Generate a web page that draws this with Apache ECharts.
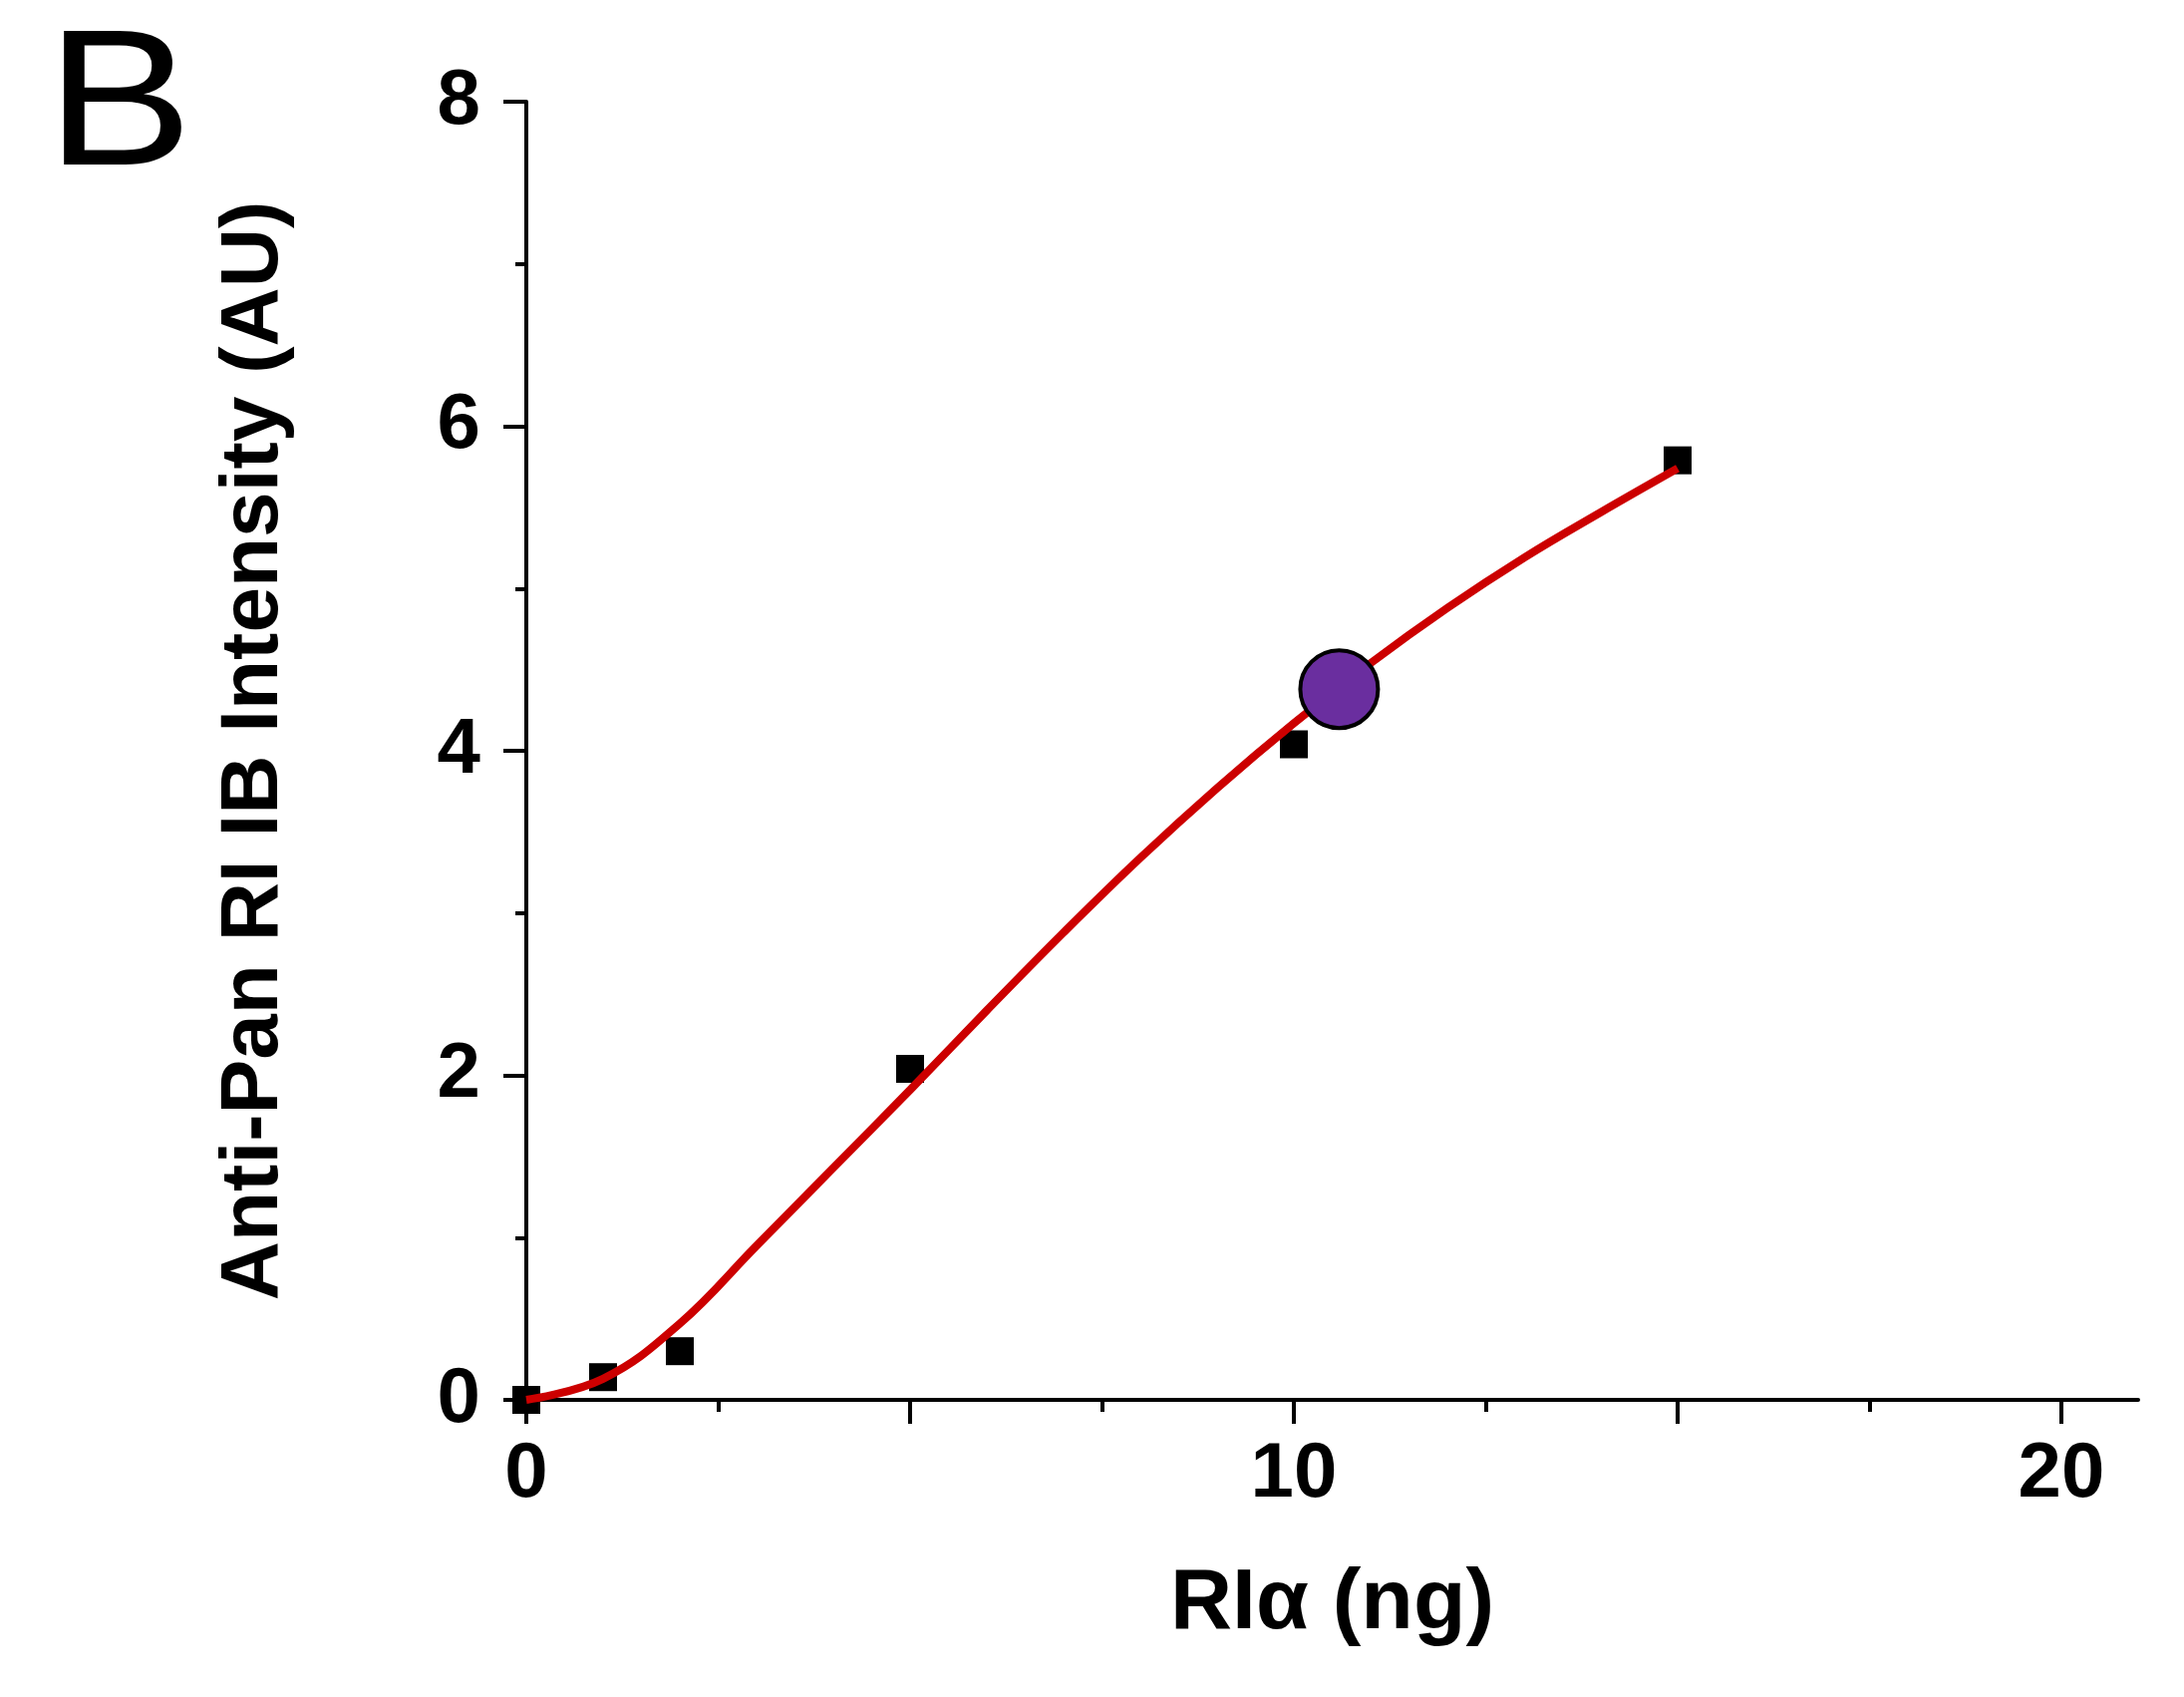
<!DOCTYPE html>
<html>
<head>
<meta charset="utf-8">
<script src="https://cdn.jsdelivr.net/npm/echarts@6/dist/echarts.min.js"></script>
<style>
  html, body { margin: 0; padding: 0; background: #ffffff; }
  #chart { width: 2191px; height: 1702px; }
</style>
</head>
<body>
<div id="chart"></div>
<script>
// Measured points (squares)
const pointX = [0, 1, 2, 5, 10, 15];
const pointY = [0.0, 0.14, 0.30, 2.04, 4.04, 5.79];

// Fitted red curve
const fitX = [0, 1, 2, 3, 4, 5, 6, 7, 8, 9, 10, 11, 12, 13, 14, 15];
const fitY = [0, 0.13, 0.47, 0.95, 1.43, 1.91, 2.40, 2.88, 3.34, 3.77, 4.17, 4.54, 4.88, 5.19, 5.47, 5.74];

// Highlighted purple point
const markX = [10.59];
const markY = [4.38];

// Axis ticks / labels
const xMajorTicks = [0, 5, 10, 15, 20];
const xMinorTicks = [2.5, 7.5, 12.5, 17.5];
const xLabels = [0, 10, 20];

const panelLetter = 'B';
const xTitle = 'RIα (ng)';
const yTitle = 'Anti-Pan RI IB Intensity (AU)';

const FONT = '"Liberation Sans", Arial, Helvetica, sans-serif';

const chart = echarts.init(document.getElementById('chart'), null, { renderer: 'canvas' });

const pairs = (xs, ys) => xs.map((x, i) => [x, ys[i]]);

const option = {
  backgroundColor: '#ffffff',
  animation: false,
  graphic: [{
    type: 'text',
    x: 46,
    y: 14,
    scaleX: 1.14,
    style: {
      text: panelLetter,
      font: 'normal 194px ' + FONT,
      fill: '#000000'
    }
  }],
  grid: { left: 528, right: 46, top: 102, bottom: 298, containLabel: false },
  xAxis: [{
    type: 'value',
    min: 0, max: 21,
    position: 'bottom',
    splitLine: { show: false },
    axisLine: { show: true, lineStyle: { color: '#000', width: 4 } },
    axisTick: { show: true, customValues: xMajorTicks, length: 24, inside: false, lineStyle: { color: '#000', width: 4 } },
    axisLabel: { show: true, customValues: xLabels, margin: 36, fontSize: 78, fontWeight: 'bold', fontFamily: FONT, color: '#000' },
    name: xTitle,
    nameLocation: 'middle',
    nameGap: 162,
    nameTextStyle: { fontSize: 86, fontWeight: 'bold', fontFamily: FONT, color: '#000' }
  }, {
    type: 'value',
    min: 0, max: 21,
    position: 'bottom',
    splitLine: { show: false },
    axisLine: { show: false },
    axisTick: { show: true, customValues: xMinorTicks, length: 12, inside: false, lineStyle: { color: '#000', width: 4 } },
    axisLabel: { show: false }
  }],
  yAxis: {
    type: 'value',
    min: 0, max: 8, interval: 2,
    splitLine: { show: false },
    axisLine: { show: true, lineStyle: { color: '#000', width: 4 } },
    axisTick: { show: true, length: 23, lineStyle: { color: '#000', width: 4 } },
    minorTick: { show: true, splitNumber: 2, length: 11, lineStyle: { color: '#000', width: 4 } },
    minorSplitLine: { show: false },
    axisLabel: { margin: 46, fontSize: 78, fontWeight: 'bold', fontFamily: FONT, color: '#000' },
    name: yTitle,
    nameLocation: 'middle',
    nameGap: 232,
    nameTextStyle: { fontSize: 82, fontWeight: 'bold', fontFamily: FONT, color: '#000' }
  },
  series: [{
    type: 'scatter',
    name: 'points',
    data: pairs(pointX, pointY),
    symbol: 'rect',
    symbolSize: 28,
    clip: true,
    itemStyle: { color: '#000000', opacity: 1 },
    z: 2
  }, {
    type: 'line',
    name: 'fit',
    data: pairs(fitX, fitY),
    smooth: 0.4,
    showSymbol: false,
    symbol: 'none',
    clip: true,
    lineStyle: { color: '#cc0000', width: 8 },
    z: 3
  }, {
    type: 'scatter',
    name: 'highlight',
    data: pairs(markX, markY),
    symbol: 'circle',
    symbolSize: 78,
    itemStyle: { color: '#6a2e9f', borderColor: '#000000', borderWidth: 4, opacity: 1 },
    z: 4
  }]
};

chart.setOption(option);
</script>
</body>
</html>
